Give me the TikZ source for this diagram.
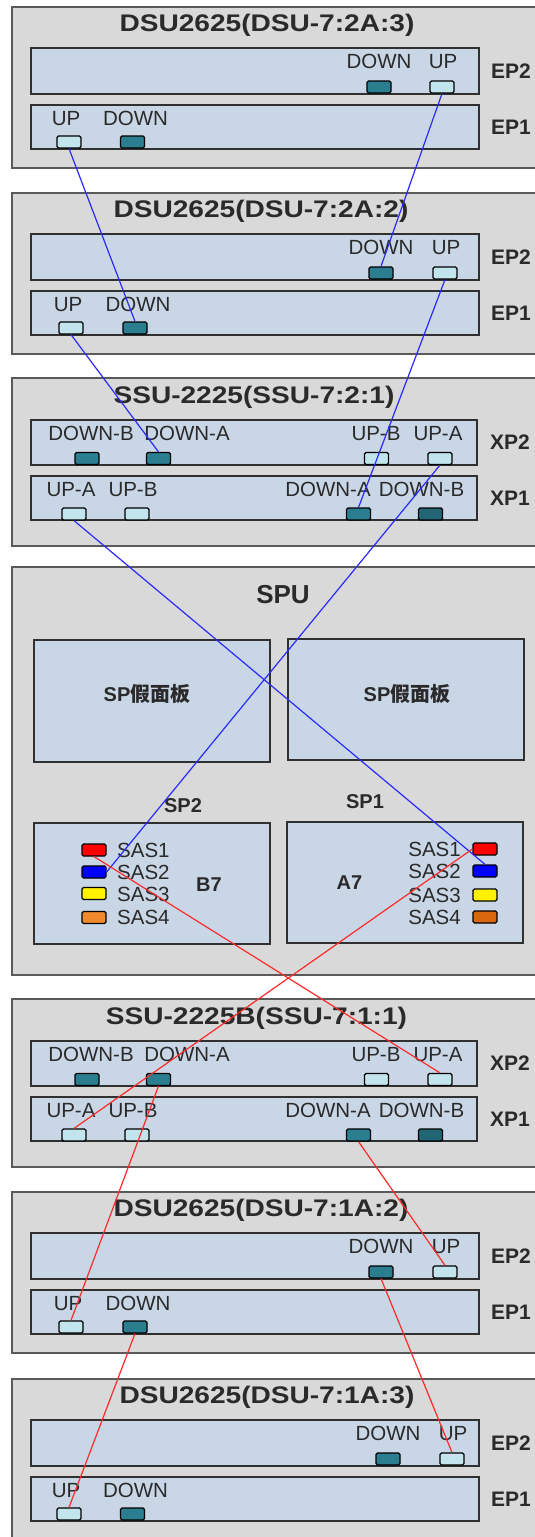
\documentclass[tikz,border=0pt]{standalone}
\usepackage{fontspec}
\setmainfont{Liberation Sans}
\newfontfamily\cjk{Noto Sans CJK SC}
\definecolor{boxgray}{HTML}{D9D9D9}
\definecolor{boxedge}{HTML}{5A5A5A}
\definecolor{panelfill}{HTML}{C9D6E6}
\definecolor{paneledge}{HTML}{303030}
\definecolor{portdark}{HTML}{2B7E8F}
\definecolor{portdarker}{HTML}{226676}
\definecolor{portlight}{HTML}{C2E4EC}
\definecolor{wireblue}{HTML}{2A2AFF}
\definecolor{wirered}{HTML}{FF2A2A}
\definecolor{txt}{HTML}{2A2A2A}
\definecolor{sasorangeL}{HTML}{F08A2C}
\definecolor{sasorangeR}{HTML}{D9670C}
\tikzset{
 unitbox/.style={draw=boxedge, fill=boxgray, line width=2pt},
 panel/.style={draw=paneledge, fill=panelfill, line width=1.5pt},
 portbase/.style={draw=black, line width=1.2pt, rounded corners=1.5pt, minimum width=24pt, minimum height=12pt, inner sep=0pt, anchor=center},
 dport/.style={portbase, fill=portdark},
 ddport/.style={portbase, fill=portdarker},
 lport/.style={portbase, fill=portlight},
 plabel/.style={font=\fontsize{20.5}{22}\selectfont, text=txt, inner sep=0pt, anchor=base},
 slabel/.style={font=\bfseries\fontsize{21}{23}\selectfont, text=txt, inner sep=0pt},
 ttl/.style={font=\bfseries\fontsize{24}{26}\selectfont, inner sep=0pt, anchor=base, text=txt},
 bwire/.style={draw=wireblue, line width=1.2pt},
 rwire/.style={draw=wirered, line width=1.2pt},
}
% #1 prefix, #2 top, #3 title, #4 title x, #5 EP2 down x, #6 EP2 up x, #7 EP1 up x, #8 EP1 down x
\newcommand\dsuunit[8]{%
 \path[unitbox] (12,#2) rectangle (560,#2+161);
 \node[ttl] (#1-title) at (#4,#2+24) {\scalebox{1.17}[1]{#3}};
 \path[panel] (31,#2+41) rectangle (479,#2+87);
 \path[panel] (31,#2+98) rectangle (479,#2+142);
 \node[slabel] (#1-ep2lab) at (511,#2+64) {EP2};
 \node[slabel] (#1-ep1lab) at (511,#2+120) {EP1};
 \node[plabel] (#1-ep2-downlab) at (#5,#2+61) {DOWN};
 \node[plabel] (#1-ep2-uplab) at (#6+1,#2+61) {UP};
 \node[plabel] (#1-ep1-uplab) at (#7-3,#2+118) {UP};
 \node[plabel] (#1-ep1-downlab) at (#8+3,#2+118) {DOWN};
 \node[dport] (#1-ep2-down) at (#5,#2+80) {};
 \node[lport] (#1-ep2-up) at (#6,#2+80) {};
 \node[lport] (#1-ep1-up) at (#7,#2+135) {};
 \node[dport] (#1-ep1-down) at (#8,#2+135) {};
}
% #1 prefix, #2 top, #3 title, #4 title x
\newcommand\ssuunit[4]{%
 \path[unitbox] (12,#2) rectangle (560,#2+168);
 \node[ttl] (#1-title) at (#4,#2+25) {\scalebox{1.17}[1]{#3}};
 \path[panel] (31,#2+42) rectangle (477,#2+87);
 \path[panel] (31,#2+98) rectangle (477,#2+142);
 \node[slabel] (#1-xp2lab) at (510,#2+64) {XP2};
 \node[slabel] (#1-xp1lab) at (510,#2+120) {XP1};
 \node[plabel] (#1-xp2-downblab) at (91,#2+62) {DOWN-B};
 \node[plabel] (#1-xp2-downalab) at (187,#2+62) {DOWN-A};
 \node[plabel] (#1-xp2-upblab) at (376,#2+62) {UP-B};
 \node[plabel] (#1-xp2-upalab) at (438,#2+62) {UP-A};
 \node[plabel] (#1-xp1-upalab) at (71,#2+118) {UP-A};
 \node[plabel] (#1-xp1-upblab) at (133,#2+118) {UP-B};
 \node[plabel] (#1-xp1-downalab) at (328,#2+118) {DOWN-A};
 \node[plabel] (#1-xp1-downblab) at (421.5,#2+118) {DOWN-B};
 \node[dport] (#1-xp2-downb) at (87,#2+80.5) {};
 \node[dport] (#1-xp2-downa) at (158.5,#2+80.5) {};
 \node[lport] (#1-xp2-upb) at (376.5,#2+80.5) {};
 \node[lport] (#1-xp2-upa) at (440,#2+80.5) {};
 \node[lport] (#1-xp1-upa) at (74,#2+136) {};
 \node[lport] (#1-xp1-upb) at (137,#2+136) {};
 \node[dport] (#1-xp1-downa) at (358.5,#2+136) {};
 \node[ddport] (#1-xp1-downb) at (430.5,#2+136) {};
}
\begin{document}
\begin{tikzpicture}[x=1pt,y=-1pt]
\useasboundingbox (0,0) rectangle (535,1537);
\clip (0,0) rectangle (535,1537);
\fill[white] (0,0) rectangle (535,1537);

\dsuunit{b1}{7}{DSU2625(DSU-7:2A:3)}{267}{379}{442}{69}{132.5}
\dsuunit{b2}{193}{DSU2625(DSU-7:2A:2)}{261}{381}{445}{71}{135}
\ssuunit{b3}{378}{SSU-2225(SSU-7:2:1)}{254}

% SPU
\path[unitbox] (12,567) rectangle (560,975);
\node[font=\bfseries\fontsize{26}{28}\selectfont, text=txt, inner sep=0pt, anchor=base] (spu-title) at (283,603) {SPU};
\path[panel] (34,640) rectangle (270,762);
\path[panel] (288,639) rectangle (524,760);
\path[panel] (34,823) rectangle (270,944);
\path[panel] (287,822) rectangle (523,943);
\node[font=\bfseries\fontsize{20}{22}\selectfont, text=txt, inner sep=0pt] (sp-blank-l) at (147,694) {SP{\cjk 假面板}};
\node[font=\bfseries\fontsize{20}{22}\selectfont, text=txt, inner sep=0pt] (sp-blank-r) at (407,694) {SP{\cjk 假面板}};
\node[slabel, anchor=base, font=\bfseries\fontsize{20}{22}\selectfont] (sp2-lab) at (183,812) {SP2};
\node[slabel, anchor=base, font=\bfseries\fontsize{20}{22}\selectfont] (sp1-lab) at (365,808) {SP1};
\node[slabel, font=\bfseries\fontsize{20}{22}\selectfont] (b7-lab) at (209,885) {B7};
\node[slabel, font=\bfseries\fontsize{20}{22}\selectfont] (a7-lab) at (349.5,883) {A7};
% B7 SAS ports
\node[portbase, fill=red] (b7-sas1) at (94,850) {};
\node[portbase, fill=blue] (b7-sas2) at (94,872) {};
\node[portbase, fill=yellow] (b7-sas3) at (94,893.5) {};
\node[portbase, fill=sasorangeL] (b7-sas4) at (94,917.5) {};
\node[plabel, anchor=base west] (b7-sas1lab) at (117,857.5) {SAS1};
\node[plabel, anchor=base west] (b7-sas2lab) at (117,879.5) {SAS2};
\node[plabel, anchor=base west] (b7-sas3lab) at (117,901.5) {SAS3};
\node[plabel, anchor=base west] (b7-sas4lab) at (117,924.5) {SAS4};
% A7 SAS ports
\node[portbase, fill=red] (a7-sas1) at (485,849) {};
\node[portbase, fill=blue] (a7-sas2) at (485,871) {};
\node[portbase, fill=yellow] (a7-sas3) at (485,895) {};
\node[portbase, fill=sasorangeR] (a7-sas4) at (485,917) {};
\node[plabel, anchor=base east] (a7-sas1lab) at (461,856.5) {SAS1};
\node[plabel, anchor=base east] (a7-sas2lab) at (461,878.5) {SAS2};
\node[plabel, anchor=base east] (a7-sas3lab) at (461,902) {SAS3};
\node[plabel, anchor=base east] (a7-sas4lab) at (461,924) {SAS4};

\ssuunit{b5}{999}{SSU-2225B(SSU-7:1:1)}{256.5}
\dsuunit{b6}{1192}{DSU2625(DSU-7:1A:2)}{261}{381}{445}{71}{135}
\dsuunit{b7}{1379}{DSU2625(DSU-7:1A:3)}{267}{388}{452}{69}{132.5}

% blue wires
\draw[bwire] (b1-ep2-up.south) -- (b2-ep2-down.north);
\draw[bwire] (b1-ep1-up.south) -- (b2-ep1-down.north);
\draw[bwire] (b2-ep2-up.south) -- (b3-xp1-downa.north);
\draw[bwire] (b2-ep1-up.south) -- (b3-xp2-downa.north);
\draw[bwire] (b3-xp2-upa.south) -- (b7-sas2.east);
\draw[bwire] (b3-xp1-upa.south) -- (a7-sas2.north);
% red wires
\draw[rwire] (b7-sas1.south) -- (b5-xp2-upa.north);
\draw[rwire] (a7-sas1.west) -- (b5-xp1-upa.north);
\draw[rwire] (b5-xp2-downa.south) -- (b6-ep1-up.north);
\draw[rwire] (b5-xp1-downa.south) -- (b6-ep2-up.north);
\draw[rwire] (b6-ep1-down.south) -- (b7-ep1-up.north);
\draw[rwire] (b6-ep2-down.south) -- (b7-ep2-up.north);
\end{tikzpicture}
\end{document}
